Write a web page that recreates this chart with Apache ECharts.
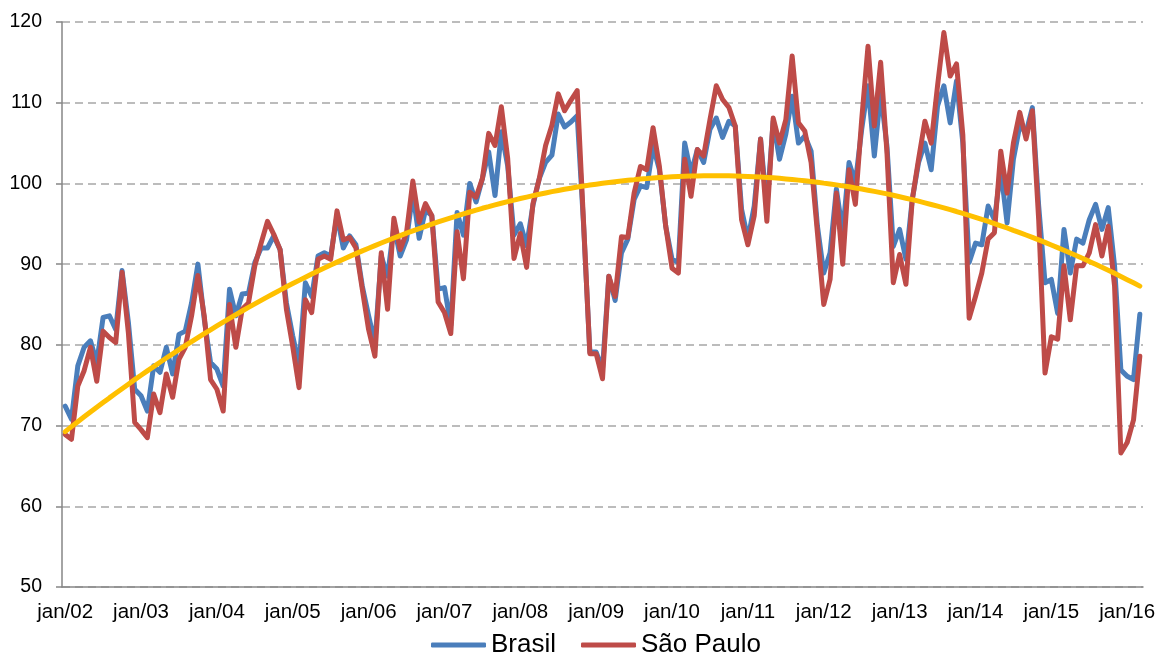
<!DOCTYPE html>
<html>
<head>
<meta charset="utf-8">
<title>Brasil x São Paulo</title>
<script src="https://cdn.jsdelivr.net/npm/echarts@6/dist/echarts.min.js"></script>
<style>
  html, body { margin: 0; padding: 0; background: #fff; }
  #grafico { width: 1159px; height: 655px; }
</style>
</head>
<body>
<div id="grafico"></div>
<script>
// meses e anos do eixo x (jan/02 .. mar/16)
var meses = ['jan', 'fev', 'mar', 'abr', 'mai', 'jun', 'jul', 'ago', 'set', 'out', 'nov', 'dez'];
var anos = ['02', '03', '04', '05', '06', '07', '08', '09', '10', '11', '12', '13', '14', '15', '16'];
var mesesUltimoAno = 3;

// valores, um ano por linha
var brasil = [
  72.4, 70.8, 77.4, 79.7, 80.5, 77.8, 83.4, 83.6, 81.9, 89.2, 82.8, 74.5,
  73.7, 71.8, 77.4, 76.6, 79.7, 76.4, 81.3, 81.7, 85.2, 90.0, 83.2, 77.8,
  77.0, 74.9, 86.9, 83.6, 86.3, 86.4, 90.2, 92.0, 92.0, 93.5, 91.8, 85.2,
  81.1, 77.5, 87.7, 86.0, 91.0, 91.4, 91.0, 96.0, 92.0, 93.5, 92.4, 87.3,
  83.6, 80.2, 91.0, 88.5, 94.7, 91.0, 93.0, 98.8, 93.2, 96.7, 96.0, 86.9,
  87.1, 82.4, 96.4, 93.6, 100.0, 97.7, 100.6, 103.9, 98.5, 106.4, 102.2, 93.6,
  95.0, 92.3, 97.3, 100.6, 102.6, 103.5, 108.6, 107.0, 107.6, 108.4, 95.0, 79.1,
  79.1, 77.0, 88.5, 85.5, 91.4, 93.1, 98.0, 99.7, 99.5, 104.6, 101.7, 94.7,
  90.6, 90.2, 105.0, 101.3, 104.2, 102.6, 106.7, 108.1, 105.7, 107.7, 107.1, 96.8,
  93.1, 97.2, 105.5, 97.0, 107.7, 103.0, 106.1, 110.8, 105.0, 105.9, 104.0, 94.7,
  88.9, 91.4, 99.3, 93.9, 102.6, 100.1, 106.7, 112.1, 103.4, 111.2, 104.6, 92.2,
  94.3, 90.6, 98.0, 102.6, 105.0, 101.7, 109.6, 112.1, 107.5, 112.7, 105.0, 90.2,
  92.6, 92.4, 97.2, 95.5, 101.7, 95.1, 103.0, 107.1, 106.3, 109.4, 97.2, 87.7,
  88.1, 83.9, 94.3, 88.9, 93.1, 92.6, 95.5, 97.4, 94.3, 97.0, 89.8, 76.9,
  76.1, 75.7, 83.8
];

var saoPaulo = [
  68.9, 68.3, 74.9, 76.8, 79.7, 75.5, 81.7, 80.9, 80.3, 89.0, 81.5, 70.4,
  69.5, 68.5, 73.9, 71.6, 76.4, 73.5, 78.2, 79.7, 83.6, 88.6, 83.6, 75.7,
  74.5, 71.8, 85.0, 79.7, 84.4, 85.2, 89.8, 92.6, 95.3, 93.7, 91.8, 84.4,
  79.8, 74.7, 85.6, 84.0, 90.6, 91.0, 90.6, 96.6, 93.0, 93.3, 92.0, 86.9,
  81.9, 78.6, 91.4, 84.4, 95.7, 91.8, 93.9, 100.3, 95.2, 97.5, 96.0, 85.3,
  84.0, 81.4, 94.0, 88.2, 98.9, 98.3, 100.6, 106.2, 104.7, 109.5, 103.1, 90.7,
  93.8, 89.6, 97.5, 100.6, 104.7, 107.2, 111.1, 109.0, 110.3, 111.5, 95.2, 78.9,
  78.9, 75.8, 88.5, 86.0, 93.4, 93.3, 98.8, 102.1, 101.7, 106.9, 102.1, 94.7,
  89.5, 88.9, 103.0, 98.4, 104.2, 103.4, 107.9, 112.1, 110.4, 109.4, 107.1, 95.5,
  92.4, 96.0, 105.5, 95.3, 108.1, 105.0, 107.9, 115.8, 107.5, 106.5, 102.6, 93.9,
  85.0, 88.1, 98.8, 90.0, 101.7, 97.4, 107.9, 117.0, 107.1, 115.0, 103.8, 87.7,
  91.2, 87.5, 98.0, 103.0, 107.7, 105.0, 112.1, 118.7, 113.3, 114.8, 106.0, 83.3,
  86.0, 88.9, 93.1, 93.9, 104.0, 98.8, 105.0, 108.8, 105.5, 109.0, 95.5, 76.5,
  81.0, 80.7, 89.8, 83.1, 89.8, 89.8, 91.4, 94.9, 91.0, 94.7, 87.3, 66.6,
  67.9, 70.7, 78.6
];

// rotulos mes/ano
var rotulos = [];
for (var a = 0; a < anos.length; a++) {
  var n = (a == anos.length - 1) ? mesesUltimoAno : 12;
  for (var m = 0; m < n; m++) {
    rotulos.push(meses[m] + '/' + anos[a]);
  }
}

// tendencia polinomial de 2a ordem (minimos quadrados, como a linha de tendencia do Excel)
function tendenciaPolinomial(valores) {
  var s = [0, 0, 0, 0, 0], t = [0, 0, 0];
  for (var i = 0; i < valores.length; i++) {
    var x = (i + 1) / 100;
    var p = 1;
    for (var k = 0; k < 5; k++) {
      s[k] += p;
      if (k < 3) t[k] += p * valores[i];
      p *= x;
    }
  }
  // sistema normal 3x3 resolvido por eliminacao
  var M = [
    [s[0], s[1], s[2], t[0]],
    [s[1], s[2], s[3], t[1]],
    [s[2], s[3], s[4], t[2]]
  ];
  for (var c = 0; c < 3; c++) {
    for (var r = c + 1; r < 3; r++) {
      var f = M[r][c] / M[c][c];
      for (var j = c; j < 4; j++) M[r][j] -= f * M[c][j];
    }
  }
  var coef = [0, 0, 0];
  for (var r2 = 2; r2 >= 0; r2--) {
    var soma = M[r2][3];
    for (var j2 = r2 + 1; j2 < 3; j2++) soma -= M[r2][j2] * coef[j2];
    coef[r2] = soma / M[r2][r2];
  }
  var saida = [];
  for (var i2 = 0; i2 < valores.length; i2++) {
    var x2 = (i2 + 1) / 100;
    saida.push(+(coef[0] + coef[1] * x2 + coef[2] * x2 * x2).toFixed(2));
  }
  return saida;
}

// tendencia calculada sobre a serie de Sao Paulo
var tendencia = tendenciaPolinomial(saoPaulo);

var fonte = '"Liberation Sans", Arial, sans-serif';

var myChart = echarts.init(document.getElementById('grafico'));

myChart.setOption({
  animation: false,
  backgroundColor: '#ffffff',
  grid: { left: 62, right: 16, top: 22, bottom: 68 },
  legend: {
    data: ['Brasil', 'São Paulo'],
    icon: 'roundRect',
    left: 426,
    top: 627,
    itemWidth: 55,
    itemHeight: 5,
    itemGap: 25,
    textStyle: { fontFamily: fonte, fontSize: 26, color: '#000' }
  },
  xAxis: {
    type: 'category',
    data: rotulos,
    boundaryGap: true,
    axisLine: { lineStyle: { color: '#868686', width: 1.5 } },
    axisTick: { interval: 11, length: 6, lineStyle: { color: '#868686', width: 1.5 } },
    axisLabel: { interval: 11, margin: 15, fontFamily: fonte, fontSize: 20.5, color: '#000' },
    splitLine: { show: false }
  },
  yAxis: {
    type: 'value',
    min: 50,
    max: 120,
    interval: 10,
    axisLine: { show: true, lineStyle: { color: '#868686', width: 1.5 } },
    axisTick: { show: true, length: 6, lineStyle: { color: '#868686', width: 1.5 } },
    axisLabel: { margin: 20, padding: [4, 0, 0, 0], fontFamily: fonte, fontSize: 19.5, color: '#000' },
    splitLine: { lineStyle: { color: '#a6a6a6', width: 1.5, type: [8, 5] } }
  },
  series: [
    {
      name: 'Brasil',
      type: 'line',
      data: brasil,
      symbol: 'none',
      color: '#4a7ebb',
      lineStyle: { width: 5, join: 'round', cap: 'round' },
      z: 2
    },
    {
      name: 'São Paulo',
      type: 'line',
      data: saoPaulo,
      symbol: 'none',
      color: '#be4b48',
      lineStyle: { width: 5, join: 'round', cap: 'round' },
      z: 3
    },
    {
      name: 'Tendência',
      type: 'line',
      data: tendencia,
      symbol: 'none',
      color: '#ffc000',
      lineStyle: { width: 5, cap: 'round' },
      z: 4
    }
  ]
});
</script>
</body>
</html>
